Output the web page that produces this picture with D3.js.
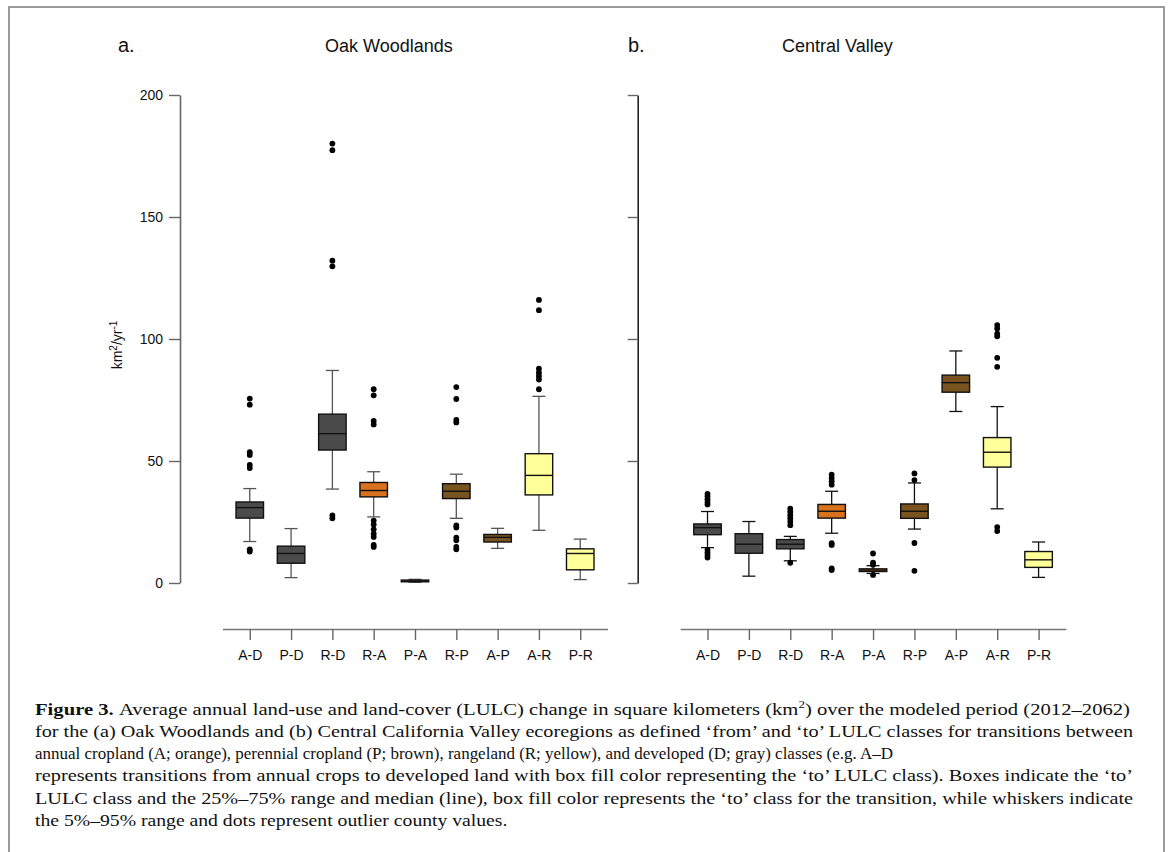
<!DOCTYPE html>
<html>
<head>
<meta charset="utf-8">
<script src="https://d3js.org/d3.v7.min.js"></script>
<style>
  body { margin: 0; background: #fff; }
  .tick text, .lbl { font-family: "Liberation Sans", Arial, sans-serif; fill: #111; }
  .caption { font-family: "Liberation Serif", "Times New Roman", serif; font-size: 17.5px; fill: #111; }
</style>
</head>
<body>
<svg width="1171" height="852"></svg>
<script>
var categories = ["A-D", "P-D", "R-D", "R-A", "P-A", "R-P", "A-P", "A-R", "P-R"];
var yTicks = [0, 50, 100, 150, 200];
var classColor = { D: "#4b4b4b", A: "#d8721f", P: "#795421", R: "#ffff99" };

// a. Oak Woodlands
var oakLow    = [17.0, 2.2, 38.5, 27.1, 0.3, 26.5, 14.2, 21.6, 1.4];
var oakQ1     = [26.6, 8.1, 54.5, 35.3, 0.5, 34.6, 16.8, 36.1, 5.4];
var oakMedian = [30.9, 12.1, 61.2, 37.9, 0.8, 37.6, 18.7, 44.1, 12.1];
var oakQ3     = [33.2, 15.1, 69.2, 41.2, 1.2, 40.7, 19.9, 53.0, 14.0];
var oakHigh   = [38.7, 22.3, 87.1, 45.6, 1.5, 44.6, 22.4, 76.5, 18.0];
var oakOutliers = [
  [75.6, 73.1, 53.6, 52.5, 48.4, 47.1, 13.8, 12.9],
  [],
  [180.1, 177.4, 132.1, 129.8, 27.7, 26.5],
  [79.4, 76.9, 66.4, 65.0, 25.6, 24.0, 22.0, 20.2, 18.9, 15.6, 14.8],
  [],
  [80.3, 75.4, 66.8, 65.8, 23.6, 22.7, 18.6, 17.5, 14.8, 13.8],
  [],
  [116.0, 111.8, 87.8, 86.2, 84.8, 83.4, 79.4],
  []
];

// b. Central Valley
var cvLow    = [14.5, 2.8, 9.1, 20.4, 3.9, 22.1, 70.3, 30.4, 2.3];
var cvQ1     = [19.8, 12.2, 14.0, 26.6, 4.7, 26.5, 78.2, 47.5, 6.4];
var cvMedian = [22.7, 15.9, 15.9, 29.4, 5.3, 29.4, 82.1, 53.6, 9.5];
var cvQ3     = [24.2, 20.2, 17.8, 32.2, 5.8, 32.4, 85.2, 59.6, 12.9];
var cvHigh   = [29.3, 25.2, 19.1, 37.6, 7.1, 41.0, 95.1, 72.3, 16.8];
var cvOutliers = [
  [36.5, 35.4, 34.3, 33.2, 32.2, 13.6, 12.5, 11.5, 10.4],
  [],
  [30.5, 29.2, 27.8, 26.5, 25.1, 23.7, 8.3],
  [44.4, 43.0, 41.7, 40.3, 16.3, 15.6, 6.0, 5.3],
  [12.1, 8.3, 7.5, 3.3],
  [44.9, 42.2, 16.4, 5.0],
  [],
  [105.7, 104.3, 102.2, 101.1, 92.3, 88.6, 22.9, 21.3],
  []
];

var captionLines = [
  "Average annual land-use and land-cover (LULC) change in square kilometers (km",
  "for the (a) Oak Woodlands and (b) Central California Valley ecoregions as defined \u2018from\u2019 and \u2018to\u2019 LULC classes for transitions between",
  "annual cropland (A; orange), perennial cropland (P; brown), rangeland (R; yellow), and developed (D; gray) classes (e.g. A\u2013D",
  "represents transitions from annual crops to developed land with box fill color representing the \u2018to\u2019 LULC class). Boxes indicate the \u2018to\u2019",
  "LULC class and the 25%\u201375% range and median (line), box fill color represents the \u2018to\u2019 class for the transition, while whiskers indicate",
  "the 5%\u201395% range and dots represent outlier county values."
];
var captionWidths = [1095, 1098, 858, 1098, 1098, null];

var svg = d3.select("svg");

// outer frame
svg.append("rect")
  .attr("x", 9).attr("y", 7)
  .attr("width", 1155).attr("height", 900)
  .attr("fill", "none").attr("stroke", "#9a9a9a").attr("stroke-width", 2);

var y = d3.scaleLinear().domain([0, 200]).range([583, 95]);

function drawPanel(opt) {
  var g = svg.append("g");
  var x = d3.scalePoint().domain(categories).range(opt.xRange).padding(0.66);

  // y axis
  var yAxis = d3.axisLeft(y).tickValues(yTicks).tickSize(opt.yTick).tickSizeOuter(0).tickPadding(6);
  if (!opt.yLabels) yAxis.tickFormat("");
  var ya = g.append("g").attr("transform", "translate(" + opt.yAxisX + ",0)").call(yAxis);
  ya.select(".domain").attr("stroke", opt.axisColor).attr("stroke-width", 1.6);
  ya.selectAll(".tick line").attr("stroke", "#666").attr("stroke-width", 1.4);
  ya.selectAll(".tick text").style("font-size", "14px");

  // x axis
  var xa = g.append("g").attr("transform", "translate(0,629)")
    .call(d3.axisBottom(x).tickSize(11).tickSizeOuter(0).tickPadding(10));
  xa.select(".domain").attr("stroke", "#777").attr("stroke-width", 1.6);
  xa.selectAll(".tick line").attr("stroke", "#666").attr("stroke-width", 1.4);
  xa.selectAll(".tick text").style("font-size", "14px");

  var boxW = 27.5, capW = 13;
  categories.forEach(function(c, i) {
    var cx = x(c);
    var fill = classColor[c.split("-")[1]];
    var b = g.append("g");
    // whisker
    b.append("line").attr("x1", cx).attr("x2", cx)
      .attr("y1", y(opt.low[i])).attr("y2", y(opt.high[i]))
      .attr("stroke", opt.whiskColor).attr("stroke-width", 1.3);
    [opt.low[i], opt.high[i]].forEach(function(v) {
      b.append("line").attr("x1", cx - capW / 2).attr("x2", cx + capW / 2)
        .attr("y1", y(v)).attr("y2", y(v))
        .attr("stroke", opt.whiskColor).attr("stroke-width", 1.3);
    });
    // box
    b.append("rect")
      .attr("x", cx - boxW / 2).attr("width", boxW)
      .attr("y", y(opt.q3[i])).attr("height", Math.max(y(opt.q1[i]) - y(opt.q3[i]), 1))
      .attr("fill", fill).attr("stroke", "#111").attr("stroke-width", 1.4);
    b.append("line")
      .attr("x1", cx - boxW / 2).attr("x2", cx + boxW / 2)
      .attr("y1", y(opt.median[i])).attr("y2", y(opt.median[i]))
      .attr("stroke", "#111").attr("stroke-width", 1.4);
    // outliers
    b.selectAll("circle").data(opt.outliers[i]).enter().append("circle")
      .attr("cx", cx).attr("cy", function(d) { return y(d); })
      .attr("r", 2.9).attr("fill", "#000");
  });

  svg.append("text").attr("class", "lbl")
    .attr("x", opt.letterX).attr("y", 52)
    .style("font-size", "20px").text(opt.letter);
  svg.append("text").attr("class", "lbl")
    .attr("x", opt.titleX).attr("y", 52)
    .style("font-size", "18px").text(opt.title);
}

drawPanel({
  xRange: [222.5, 607.5], yAxisX: 180, yTick: 11, yLabels: true, axisColor: "#666",
  whiskColor: "#555", low: oakLow, q1: oakQ1, median: oakMedian, q3: oakQ3, high: oakHigh,
  outliers: oakOutliers, letter: "a.", letterX: 118, title: "Oak Woodlands", titleX: 325
});
drawPanel({
  xRange: [680.2, 1065.9], yAxisX: 637.7, yTick: 10, yLabels: false, axisColor: "#222",
  whiskColor: "#111", low: cvLow, q1: cvQ1, median: cvMedian, q3: cvQ3, high: cvHigh,
  outliers: cvOutliers, letter: "b.", letterX: 628, title: "Central Valley", titleX: 782
});

// y axis title
var yt = svg.append("text").attr("class", "lbl")
  .attr("transform", "translate(122,345) rotate(-90)")
  .attr("text-anchor", "middle").style("font-size", "14px");
yt.append("tspan").text("km");
yt.append("tspan").attr("dy", -5).style("font-size", "10px").text("2");
yt.append("tspan").attr("dy", 5).text("/yr");
yt.append("tspan").attr("dy", -5).style("font-size", "10px").text("-1");

// caption
var ratios = [];
captionLines.forEach(function(line, i) {
  var t = svg.append("text").attr("class", "caption")
    .attr("x", 35).attr("y", 714.5 + i * 22.3);
  if (i === 0) {
    t.append("tspan").style("font-weight", "bold").text("Figure 3. ");
    t.append("tspan").text(line);
    t.append("tspan").attr("dy", -7).style("font-size", "11px").text("2");
    t.append("tspan").attr("dy", 7).text(") over the modeled period (2012\u20132062)");
  } else {
    t.text(line);
  }
  var natural = t.node().getComputedTextLength();
  if (captionWidths[i]) {
    ratios.push(captionWidths[i] / natural);
    t.attr("textLength", captionWidths[i]).attr("lengthAdjust", "spacingAndGlyphs");
  } else {
    t.attr("textLength", natural * d3.mean(ratios)).attr("lengthAdjust", "spacingAndGlyphs");
  }
});
</script>
</body>
</html>
